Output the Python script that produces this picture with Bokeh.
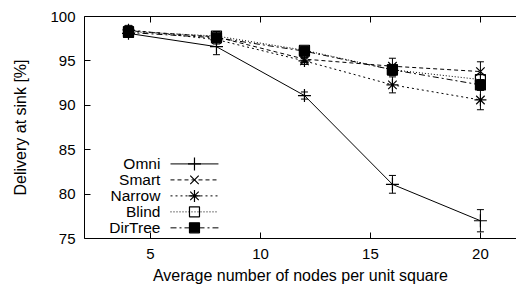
from bokeh.plotting import figure
from bokeh.models import (ColumnDataSource, Range1d, FixedTicker, LinearAxis,
                          Whisker, TeeHead, CustomJSTickFormatter)
from bokeh.core.properties import value
from bokeh.embed import file_html
from bokeh.resources import INLINE

# ---- data ----
nodes = [4, 8, 12, 16, 20]
series_names = ["Omni", "Smart", "Narrow", "Blind", "DirTree"]
omni = [98.1, 96.6, 91.1, 81.1, 77.0]
omni_err = [0.4, 0.9, 0.4, 1.0, 1.25]
smart = [98.4, 97.7, 95.2, 94.4, 93.8]
smart_err = [0.5, 0.6, 0.4, 0.9, 1.1]
narrow = [98.5, 97.4, 95.0, 92.3, 90.6]
narrow_err = [0.5, 0.5, 0.4, 0.9, 1.1]
blind = [98.3, 97.8, 96.2, 94.0, 92.9]
blind_err = [0.4, 0.5, 0.4, 0.6, 0.6]
dirtree = [98.2, 97.6, 96.1, 94.0, 92.3]
dirtree_err = [0.4, 0.4, 0.4, 0.6, 0.6]
x_ticks = [5, 10, 15, 20]
y_ticks = [75, 80, 85, 90, 95, 100]

values = [omni, smart, narrow, blind, dirtree]
errors = [omni_err, smart_err, narrow_err, blind_err, dirtree_err]

# ---- styles ----
FONT = "Liberation Sans"
dashes = ["solid", "4 3", "2 3", "1 2", "6 3 2 3"]
markers = ["cross", "x", "asterisk", "square", "square"]
msizes = [13, 12, 12, 10, 10]
fills = [None, None, None, None, "black"]

p = figure(width=516, height=288, output_backend="svg", toolbar_location=None,
           x_range=Range1d(2, 21.64), y_range=Range1d(75, 100),
           min_border_left=84, min_border_right=0, min_border_top=16,
           min_border_bottom=50)
p.outline_line_color = None
p.grid.visible = False
p.background_fill_color = "white"

for ax in (p.xaxis[0], p.yaxis[0]):
    ax.major_tick_in = 6
    ax.major_tick_out = 0
    ax.minor_tick_line_color = None
    ax.major_label_text_font = FONT
    ax.major_label_text_font_size = "15px"
    ax.major_label_text_color = "black"
    ax.axis_label_text_font = FONT
    ax.axis_label_text_font_size = "16px"
    ax.axis_label_text_font_style = "normal"
    ax.axis_label_text_color = "black"
    ax.axis_line_color = "black"
    ax.major_tick_line_color = "black"

p.xaxis.ticker = FixedTicker(ticks=x_ticks)
p.yaxis.ticker = FixedTicker(ticks=y_ticks)
p.xaxis.axis_label = "Average number of nodes per unit square"
p.yaxis.axis_label = "Delivery at sink [%]"
p.xaxis.major_label_standoff = 10
p.xaxis.axis_label_standoff = 5
p.yaxis.major_label_standoff = 9
p.yaxis.axis_label_standoff = 18

top = LinearAxis(ticker=FixedTicker(ticks=x_ticks), major_tick_in=6,
                 major_tick_out=0, minor_tick_line_color=None,
                 formatter=CustomJSTickFormatter(code="return ''"),
                 major_label_standoff=0,
                 axis_line_color="black", major_tick_line_color="black")
p.add_layout(top, "above")

for i, name in enumerate(series_names):
    v = values[i]
    e = errors[i]
    src = ColumnDataSource(dict(x=nodes, y=v,
                                lo=[a - b for a, b in zip(v, e)],
                                hi=[a + b for a, b in zip(v, e)]))
    p.line("x", "y", source=src, line_color="black", line_width=1,
           line_dash=dashes[i])
    w = Whisker(base="x", lower="lo", upper="hi", source=src,
                dimension="height", line_color="black", line_width=1,
                upper_head=TeeHead(size=7, line_color="black", line_width=1),
                lower_head=TeeHead(size=7, line_color="black", line_width=1))
    p.add_layout(w)
    p.scatter("x", "y", source=src, marker=markers[i], size=msizes[i],
              line_color="black", line_width=1.2,
              fill_color=fills[i])

# ---- manual key (gnuplot style: text right-aligned, sample to the right) ----
LEG_Y0 = 83.4
LEG_DY = 1.80
LEG_TEXT_X = 5.45
LEG_X0, LEG_XM, LEG_X1 = 5.91, 7.0, 8.09
for i, name in enumerate(series_names):
    yy = LEG_Y0 - i * LEG_DY
    p.text(x=[LEG_TEXT_X], y=[yy], text=[name], text_align="right",
           text_baseline="middle", text_font=value(FONT),
           text_font_size="15.5px", text_color="black")
    p.line(x=[LEG_X0, LEG_X1], y=[yy, yy], line_color="black", line_width=1,
           line_dash=dashes[i])
    p.scatter(x=[LEG_XM], y=[yy], marker=markers[i], size=msizes[i],
              line_color="black", line_width=1.2, fill_color=fills[i])

open("out.html", "w").write(file_html(p, INLINE))
